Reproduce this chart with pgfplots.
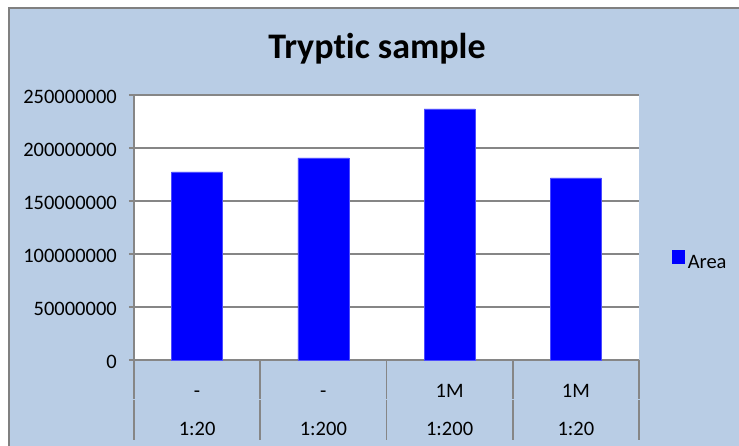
\documentclass[border=0pt]{standalone}
\usepackage{pgfplots}
\pgfplotsset{compat=1.18}
\usepackage{fontspec}
\setmainfont{Carlito}[Ligatures=NoCommon]
\definecolor{chartbg}{RGB}{185,205,229}
\definecolor{framegray}{RGB}{128,128,128}
\definecolor{linegray}{RGB}{134,134,134}
\definecolor{barblue}{RGB}{0,0,255}
\newcommand\tickfont{\fontsize{20.5}{24}\selectfont}
\begin{document}
\begin{tikzpicture}
% chart area background and frame
\fill[white] (-134pt,-86pt) rectangle (605pt,360pt);
\begin{scope}
  \clip (-134pt,-86pt) rectangle (605pt,360pt);
  \filldraw[fill=chartbg, draw=framegray, line width=2pt]
    (-125pt,352pt) rectangle (640pt,-120pt);
\end{scope}
\begin{axis}[
  at={(0pt,0pt)}, anchor=south west,
  scale only axis, width=505pt, height=265pt,
  xmin=-0.5, xmax=3.5, ymin=0, ymax=250000000,
  axis background/.style={fill=white},
  ybar, bar width=51pt,
  axis x line*=bottom, axis y line*=left,
  axis line style={linegray, line width=1.6pt},
  ymajorgrids, grid style={linegray, line width=1.2pt},
  tick align=outside, major tick length=5pt,
  ytick style={linegray, line width=1.2pt},
  xtick style={draw=none},
  tick label style={font=\tickfont},
  scaled y ticks=false,
  ytick={0,50000000,100000000,150000000,200000000,250000000},
  yticklabels={0,50000000,100000000,150000000,200000000,250000000},
  yticklabel style={anchor=east, inner sep=0pt, xshift=-12pt, yshift=-1.5pt},
  xtick={0,1,2,3},
  xticklabels={1:20,1:200,1:200,1:20},
  xticklabel style={anchor=base, inner sep=0pt, yshift=-70.5pt},
  extra x ticks={0,1,2,3},
  extra x tick labels={-,-,1M,1M},
  extra x tick style={xtick style={draw=none}, xticklabel style={yshift=38pt}},
  legend style={at={(1.0653,0.3717)}, anchor=west, draw=none, fill=none,
    inner sep=0pt, outer sep=0pt, font=\tickfont, nodes={inner sep=3.3pt}},
  clip=false,
]
\addplot[fill=barblue, draw=blue!70!white, line width=0.5pt,
  legend image code/.code={\fill[barblue] (0pt,0pt) rectangle (12pt,13pt);}]
  coordinates {(0,177400000) (1,190600000) (2,237000000) (3,171700000)};
\addlegendentry{Area}
% separators of the two-level category axis
\pgfplotsinvokeforeach{-0.5,0.5,1.5,2.5,3.5}{
  \draw[linegray, line width=1.5pt] (axis cs:#1,0) -- ++(0pt,-39.5pt);
  \draw[linegray, line width=1.5pt] (axis cs:#1,0) ++(0pt,-40.3pt) -- ++(0pt,-39.7pt);
}
\end{axis}
\node[font=\fontsize{36}{40}\selectfont\bfseries, anchor=base, inner sep=0pt]
  at (243pt,301.7pt) {Tryptic sample};
\pgfresetboundingbox
\useasboundingbox (-134pt,-86pt) rectangle (605pt,360pt);
\end{tikzpicture}
\end{document}
